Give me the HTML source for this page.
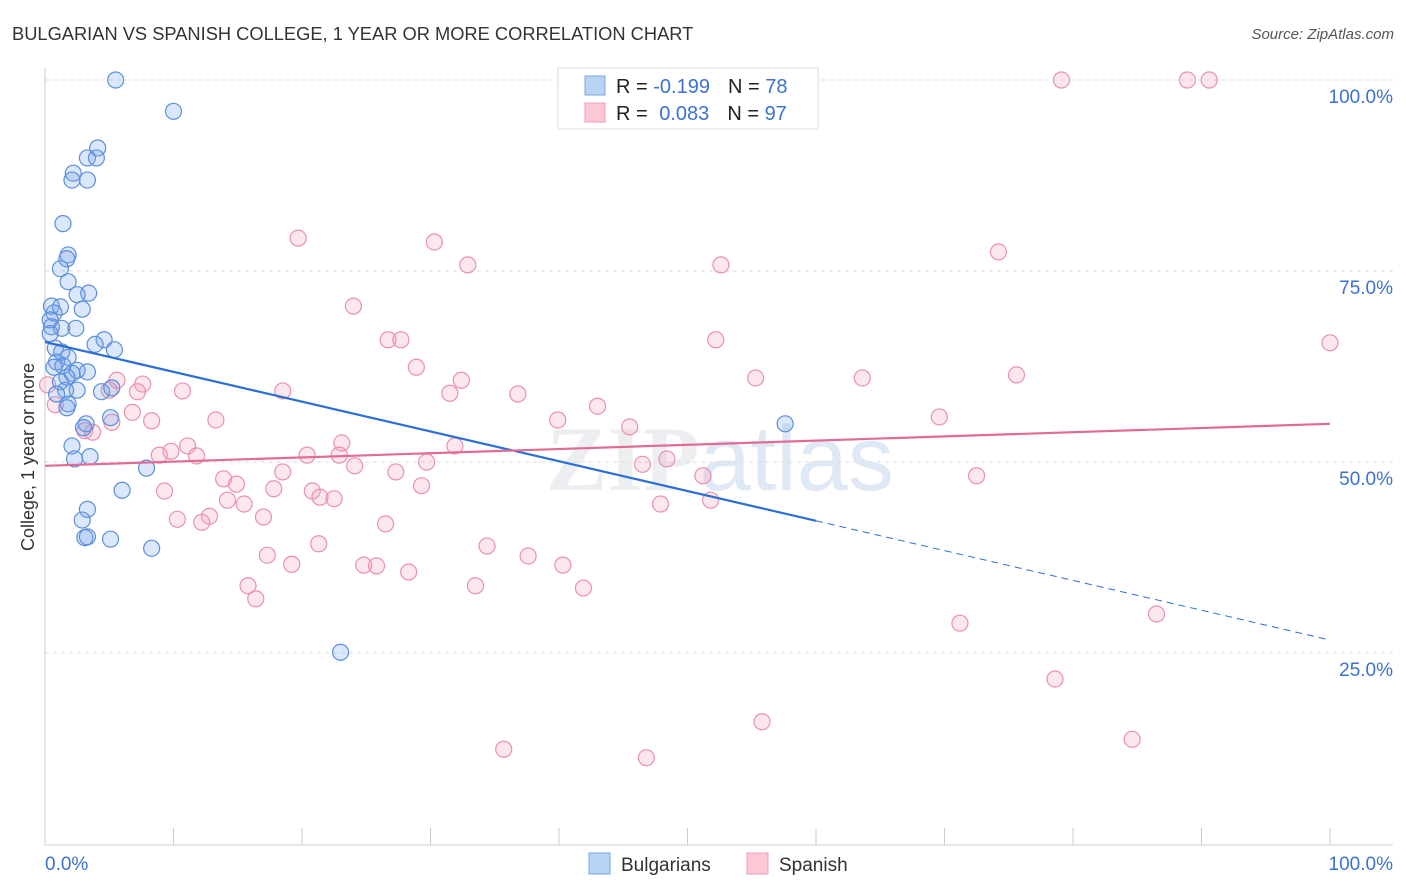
<!DOCTYPE html>
<html><head><meta charset="utf-8">
<style>
body{margin:0;background:#fff;font-family:"Liberation Sans",sans-serif;}
svg{display:block}
</style></head>
<body>
<svg id="chart" width="1406" height="892" xmlns="http://www.w3.org/2000/svg">
<text x="12" y="40" font-size="18.3" fill="#333">BULGARIAN VS SPANISH COLLEGE, 1 YEAR OR MORE CORRELATION CHART</text>
<text x="1394" y="39" font-size="15" fill="#555" text-anchor="end" font-style="italic">Source: ZipAtlas.com</text>
<text x="720" y="490" font-size="92" fill="#eceef2" text-anchor="middle" font-family="Liberation Serif" font-weight="bold">ZIP<tspan fill="#dfe8f5" font-family="Liberation Sans" font-weight="normal">atlas</tspan></text>
<g id="grid"></g>
<g id="axes"></g>
<g id="pts"></g>
<g id="trends"></g>
<text transform="translate(34,457) rotate(-90)" font-size="18" fill="#333" text-anchor="middle">College, 1 year or more</text>
<g>
<rect x="558" y="68" width="260" height="61" fill="#fff" stroke="#ddd"/>
<rect x="585" y="76" width="20" height="19" fill="#b9d3f5" stroke="#7aa6e3"/>
<rect x="585" y="103" width="20" height="19" fill="#fcc8d6" stroke="#ef9bb5"/>
<text x="616" y="93" font-size="20" fill="#222">R = <tspan fill="#3b72d1">-0.199</tspan><tspan dx="18">N = </tspan><tspan fill="#3b72d1">78</tspan></text>
<text x="616" y="120" font-size="20" fill="#222">R = <tspan fill="#3b72d1" dx="6">0.083</tspan><tspan dx="18">N = </tspan><tspan fill="#3b72d1">97</tspan></text>
</g>
<g>
<rect x="589" y="853" width="21" height="21" fill="#b9d3f5" stroke="#7aa6e3"/>
<text x="621" y="871" font-size="19" fill="#333">Bulgarians</text>
<rect x="747" y="853" width="21" height="21" fill="#fcc8d6" stroke="#ef9bb5"/>
<text x="779" y="871" font-size="19" fill="#333">Spanish</text>
</g>
</svg>
<script>
const yTicks=[25,50,75,100];
const yTickLabels=["25.0%","50.0%","75.0%","100.0%"];
const xTicks=[0,10,20,30,40,50,60,70,80,90,100];
const blueX=[5.5,10.0,4.1,3.3,4.0,2.2,2.1,3.3,1.4,1.8,1.7,1.2,1.8,3.4,2.5,0.5,1.2,2.9,0.7,0.4,0.5,1.3,2.4,0.4,4.6,3.9,5.4,0.8,1.3,1.8,0.9,1.4,0.7,2.5,3.3,2.1,1.7,1.2,1.6,4.4,0.9,2.5,5.2,1.8,1.7,5.1,3.2,3.0,2.1,2.3,3.5,7.9,6.0,3.3,2.9,3.1,5.1,3.3,8.3,57.6,23.0];
const blueY=[100,95.9,91.1,89.8,89.8,87.8,86.9,86.9,81.2,77.1,76.6,75.3,73.6,72.1,71.9,70.4,70.3,70.0,69.5,68.6,67.7,67.5,67.5,66.8,66.0,65.4,64.7,64.9,64.4,63.7,63.1,62.6,62.4,62.0,61.8,61.6,61.1,60.5,59.4,59.2,58.9,59.4,59.7,57.6,57.1,55.8,55.0,54.5,52.1,50.4,50.7,49.2,46.3,43.8,42.4,40.1,39.9,40.2,38.7,55.0,25.1];
const pinkX=[79.1,88.9,90.6,19.7,30.3,32.9,74.2,52.6,24.0,26.7,27.7,52.2,100,28.9,5.6,32.4,55.3,63.6,75.6,0.2,7.6,5.0,7.2,10.7,18.5,31.5,36.8,43.0,6.8,13.3,8.3,39.9,5.2,69.6,45.5,3.1,3.7,31.9,11.1,8.9,11.8,9.8,23.1,20.4,22.9,24.1,29.7,46.5,48.4,18.5,27.3,51.2,13.9,72.5,14.9,9.3,17.8,20.8,14.2,15.5,21.4,22.5,29.3,47.9,51.8,12.8,10.3,12.2,17.0,26.5,21.3,34.4,37.6,17.3,19.2,24.8,25.8,28.3,40.3,15.8,16.4,33.5,41.9,71.2,86.5,78.6,55.8,35.7,84.6,46.8,0.8];
const pinkY=[100,100,100,79.3,78.8,75.8,77.5,75.8,70.4,66.0,66.0,66.0,65.6,62.4,60.7,60.7,61.0,61.0,61.4,60.1,60.2,59.4,59.2,59.3,59.3,59.0,58.9,57.3,56.5,55.5,55.4,55.5,55.2,55.9,54.6,54.1,53.9,52.1,52.1,50.9,50.8,51.4,52.5,50.9,50.9,49.5,50.0,49.7,50.4,48.7,48.7,48.2,47.8,48.2,47.1,46.2,46.5,46.2,45.0,44.5,45.4,45.2,46.9,44.5,45.0,42.9,42.5,42.1,42.8,41.9,39.3,39.0,37.7,37.8,36.6,36.5,36.4,35.6,36.5,33.8,32.1,33.8,33.5,28.9,30.1,21.6,16.0,12.4,13.7,11.3,57.5];
const blueTrend=[65.7,26.7];
const pinkTrend=[49.5,55.0];
const NS="http://www.w3.org/2000/svg";
const X=v=>45+v*12.85, Y=v=>844-v*7.64;
function mk(tag,attrs,parent){const e=document.createElementNS(NS,tag);for(const k in attrs)e.setAttribute(k,attrs[k]);parent.appendChild(e);return e;}
const grid=document.getElementById('grid'),axes=document.getElementById('axes');
yTicks.forEach((t,i)=>{
  const l=mk('line',{x1:45,x2:1393,y1:Y(t),y2:Y(t),stroke:'#ddd','stroke-dasharray':'4,4'},grid);
  
  
  const tx=mk('text',{x:1393,y:Y(t)+23,'font-size':19,fill:'#3b72d1','text-anchor':'end'},axes);
  tx.textContent=yTickLabels[i];
  
  
});
const ya=mk('line',{x1:45,x2:45,y1:68,y2:845,stroke:'#ccc'},axes);


const xa=mk('line',{x1:45,x2:1393,y1:845,y2:845,stroke:'#ccc'},axes);


xTicks.forEach(t=>{
  const l=mk('line',{x1:X(t),x2:X(t),y1:845,y2:828,stroke:'#ccc'},axes);
  
  
});
const x0=mk('text',{x:45,y:870,'font-size':19,fill:'#3b72d1'},axes);x0.textContent='0.0%';


const x1=mk('text',{x:1393,y:870,'font-size':19,fill:'#3b72d1','text-anchor':'end'},axes);x1.textContent='100.0%';


const pts=document.getElementById('pts');
pinkX.forEach((v,i)=>{
  const c=mk('circle',{cx:X(v),cy:Y(pinkY[i]),r:8,fill:'rgba(244,160,188,0.25)',stroke:'#ea90ae','stroke-width':1.2},pts);
  
  
});
blueX.forEach((v,i)=>{
  const c=mk('circle',{cx:X(v),cy:Y(blueY[i]),r:8,fill:'rgba(110,160,235,0.25)',stroke:'#5c8fdb','stroke-width':1.2},pts);
  
  
});
const tr=document.getElementById('trends');
const bAt=x=>blueTrend[0]+(blueTrend[1]-blueTrend[0])*x/100;
const b1=mk('line',{x1:X(0),y1:Y(bAt(0)),x2:X(60),y2:Y(bAt(60)),stroke:'#2a6fd6','stroke-width':2.2},tr);


const b2=mk('line',{x1:X(60),y1:Y(bAt(60)),x2:X(100),y2:Y(bAt(100)),stroke:'#2a6fd6','stroke-width':1,'stroke-dasharray':'7,5'},tr);


const p1=mk('line',{x1:X(0),y1:Y(pinkTrend[0]),x2:X(100),y2:Y(pinkTrend[1]),stroke:'#e26b96','stroke-width':2.2},tr);


</script>
</body></html>
